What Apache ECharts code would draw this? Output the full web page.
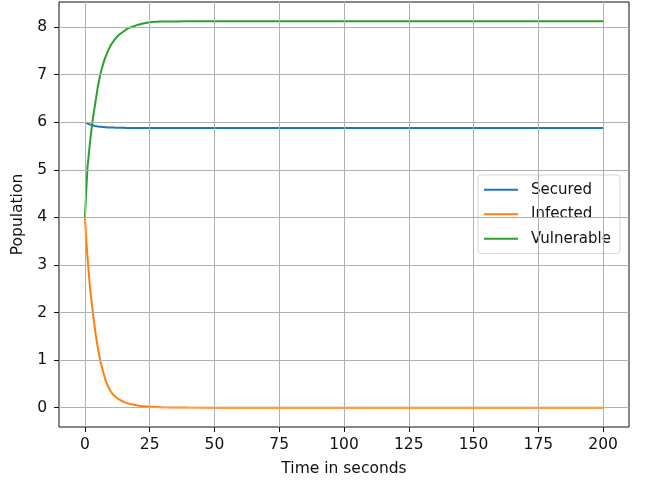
<!DOCTYPE html>
<html>
<head>
<meta charset="utf-8">
<script src="https://cdn.jsdelivr.net/npm/echarts@6/dist/echarts.min.js"></script>
<style>html,body{margin:0;padding:0;background:#fff}#c{width:646px;height:481px}</style>
</head>
<body>
<div id="c"></div>
<script>
const times = [0,0.5,1,2,3,4,5,6,7,8,9,10,11,12,13,14,15,16,17,18,19,20,21,22,23,24,25,26,27,28,29,30,35,40,50,60,80,100,120,140,160,180,200];
const secured = [6.0,5.985,5.97,5.95,5.935,5.92,5.91,5.905,5.9,5.895,5.89,5.888,5.886,5.884,5.883,5.882,5.881,5.88,5.88,5.88,5.88,5.88,5.88,5.88,5.88,5.88,5.88,5.88,5.88,5.88,5.88,5.88,5.88,5.88,5.88,5.88,5.88,5.88,5.88,5.88,5.88,5.88,5.88];
const infected = [4,3.55,3.15,2.5,2.03,1.6,1.25,0.97,0.76,0.57,0.44,0.34,0.27,0.22,0.18,0.15,0.12,0.1,0.085,0.07,0.06,0.05,0.042,0.035,0.03,0.025,0.02,0.017,0.014,0.012,0.01,0.008,0.004,0.002,0.0005,0,0,0,0,0,0,0,0];
const vulnerable = [4,4.55,5.05,5.6,6.05,6.4,6.75,7.02,7.22,7.38,7.51,7.62,7.7,7.77,7.83,7.87,7.91,7.95,7.98,8.0,8.02,8.04,8.055,8.07,8.08,8.09,8.1,8.105,8.11,8.112,8.114,8.116,8.118,8.12,8.12,8.12,8.12,8.12,8.12,8.12,8.12,8.12,8.12];
const xTicks = [0,25,50,75,100,125,150,175,200];
const yTicks = [0,1,2,3,4,5,6,7,8];
const names = ['Secured','Infected','Vulnerable'];
const colors = ['#1f77b4','#ff7f0e','#2ca02c'];

const font = 'DejaVu Sans';
const fs = 15.5;
const txt = '#111';
const legendIcon = 'path://M0,0H34V2H0Z M41.95,0H42V0.01H41.95Z';
const chart = echarts.init(document.getElementById('c'), null, {renderer:'canvas'});
const mk = (arr) => times.map((t,i)=>[t,arr[i]]);
const seriesData = [secured, infected, vulnerable];
const gridSeries = {
  name:'_grid', type:'line', data:[], silent:true, z:1,
  markLine:{
    silent:true, symbol:['none','none'], animation:false,
    label:{show:false},
    lineStyle:{color:'#b0b0b0',width:1,type:'solid'},
    emphasis:{disabled:true},
    data:xTicks.map(v=>({xAxis:v})).concat(yTicks.map(v=>({yAxis:v})))
  }
};
chart.setOption({
  animation:false,
  backgroundColor:'#fff',
  textStyle:{fontFamily:font},
  grid:{left:59,right:17,top:2,bottom:54,containLabel:false,outerBoundsMode:'none',show:true,borderColor:'#111',borderWidth:1,backgroundColor:'transparent'},
  legend:{
    orient:'vertical', left:478, top:175,
    data:names.map(n=>({name:n,icon:legendIcon})),
    itemWidth:42, itemHeight:2, itemGap:7, 
    textStyle:{fontFamily:font,fontSize:15,color:txt,lineHeight:17.5},
    backgroundColor:'rgba(255,255,255,0.8)', borderColor:'#d5d5d5', borderWidth:1, borderRadius:3,
    padding:[6,9,6,6]
  },
  xAxis:{
    type:'value', min:-10, max:210,
    name:'Time in seconds', nameLocation:'middle', nameGap:34,
    nameTextStyle:{fontFamily:font,fontSize:fs,color:txt},
    axisLine:{show:false,onZero:false},
    axisTick:{show:true,customValues:xTicks,length:5,lineStyle:{color:'#111'}},
    axisLabel:{customValues:xTicks,margin:10,fontFamily:font,fontSize:fs,color:txt},
    splitLine:{show:false}
  },
  yAxis:{
    type:'value', min:-0.406, max:8.526,
    name:'Population', nameLocation:'middle', nameGap:26,
    nameTextStyle:{fontFamily:font,fontSize:fs,color:txt},
    axisLine:{show:false,onZero:false},
    axisTick:{show:true,customValues:yTicks,length:5,lineStyle:{color:'#111'}},
    axisLabel:{customValues:yTicks,margin:12,fontFamily:font,fontSize:fs,color:txt},
    splitLine:{show:false}
  },
  series:[gridSeries].concat(names.map((n,i)=>({
    name:n, type:'line', data:mk(seriesData[i]), showSymbol:false, symbol:'none', z:3,
    lineStyle:{color:colors[i],width:2}, itemStyle:{color:colors[i]}, smooth:false
  })))
});
</script>
</body>
</html>
